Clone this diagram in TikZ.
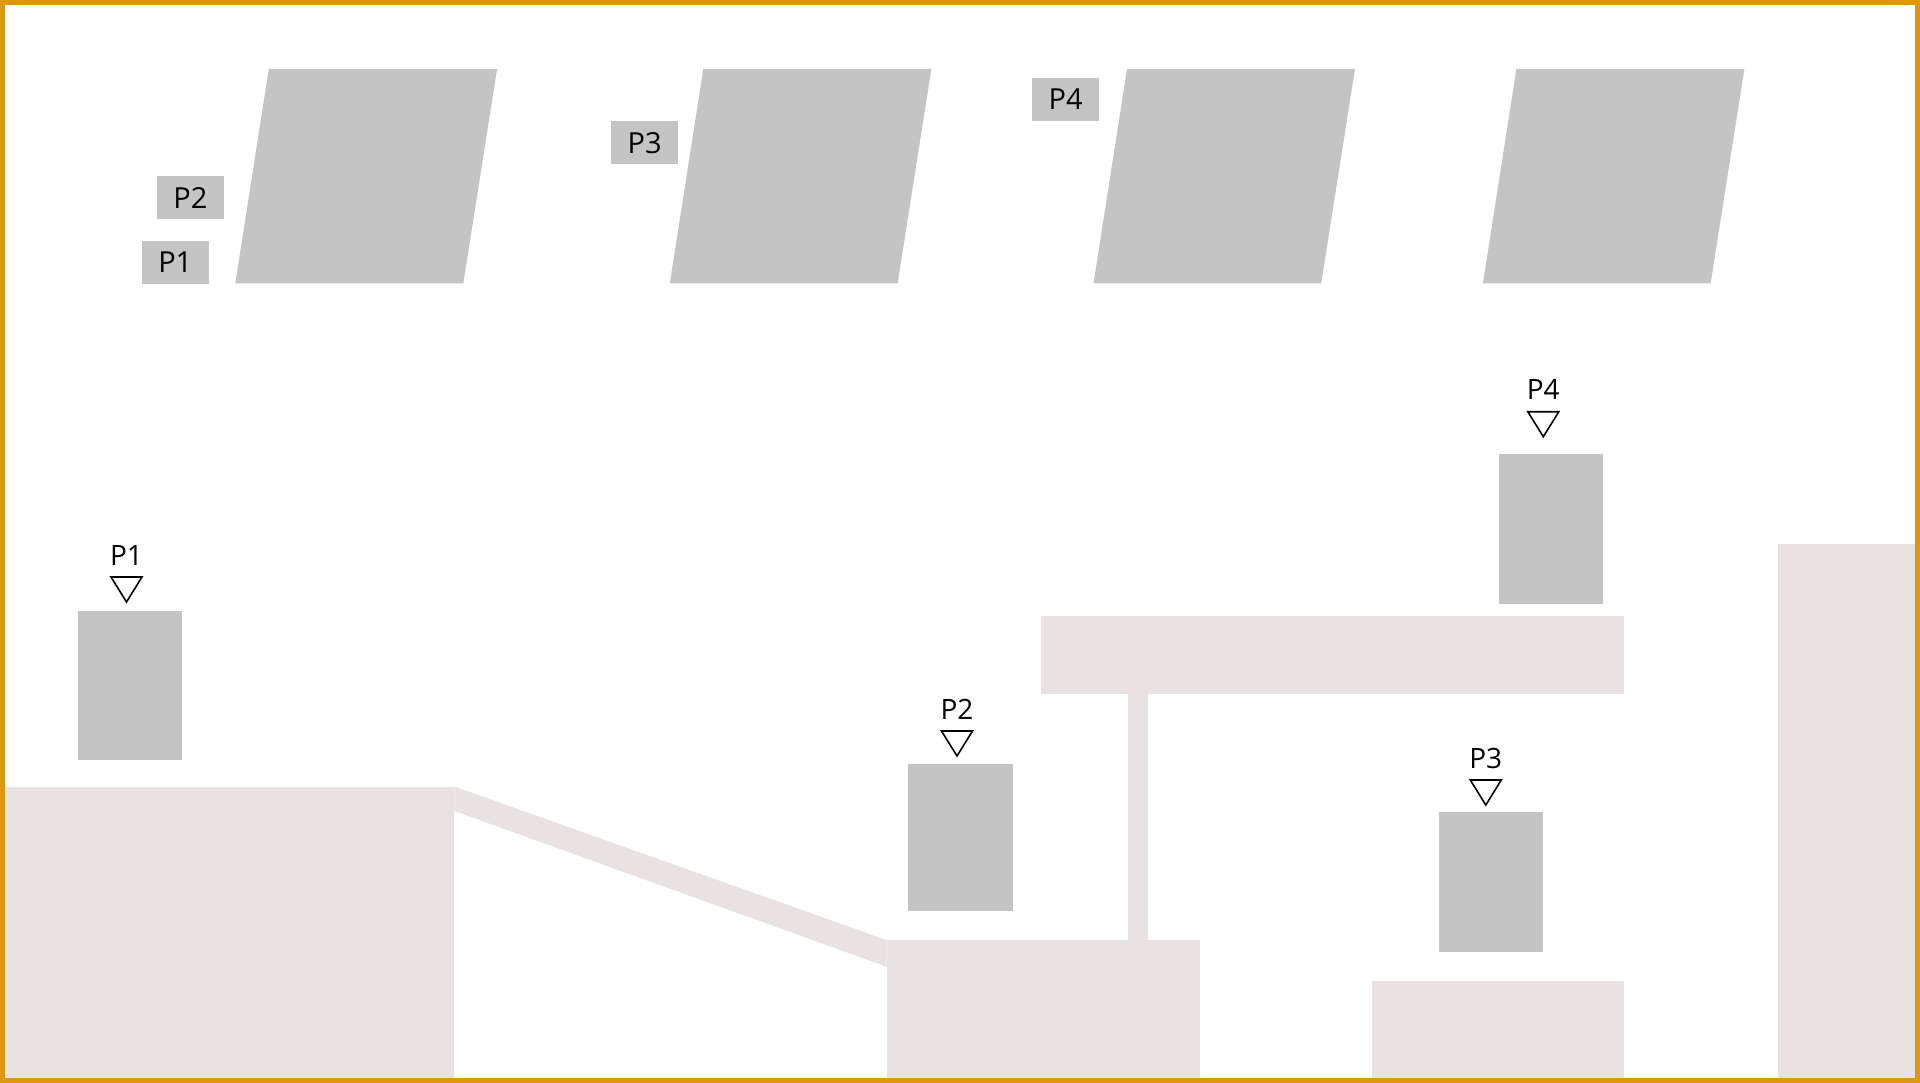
\documentclass[tikz,border=0pt]{standalone}
\usepackage{fontspec}
\setmainfont{Open Sans}
\usetikzlibrary{positioning}
\definecolor{framebd}{HTML}{E0970F}
\definecolor{blockgray}{HTML}{C4C4C4}
\definecolor{floorgray}{HTML}{E8E2E2}

\begin{document}
\begin{tikzpicture}[x=1pt, y=-1pt,
  blk/.style={fill=blockgray},
  flr/.style={fill=floorgray},
  tag/.style={fill=blockgray, minimum width=67.5pt, minimum height=43pt,
              inner sep=0pt, font=\fontsize{29}{34}\selectfont},
  mlbl/.style={anchor=base, inner sep=0pt, font=\fontsize{28}{34}\selectfont},
]

\useasboundingbox (0,0) rectangle (1920,1083);

%% floor pieces
\fill[flr] (5,786.5) rectangle (454.3,1080);
\fill[flr] (454.3,786.5) -- (886.5,940) -- (886.5,966.7) -- (454.3,811) -- cycle;
\fill[flr] (886.5,940) rectangle (1199.7,1080);
\fill[flr] (1127.5,693.5) rectangle (1147.5,940);
\fill[flr] (1041,616) rectangle (1623.7,693.5);
\fill[flr] (1372,981) rectangle (1623.7,1080);
\fill[flr] (1778.3,544) rectangle (1916,1080);

%% slanted panels at the top
\foreach \xa/\xb in {235.3/463.3, 669.8/897.6, 1093.5/1321.2, 1482.9/1710.6} {
  \fill[blk] (\xa,283.5) -- (\xa+33.5,68.8) -- (\xb+33.8,68.8) -- (\xb,283.5) -- cycle;
}

%% tags
\node[tag] (tagP2) at (190.5,198) {P2};
\node[tag] (tagP1) at (175.3,262.2) {P1};
\node[tag] (tagP3) at (644.7,142.7) {P3};
\node[tag] (tagP4) at (1065.7,99.5) {P4};

%% boxes
\fill[blk] (78.4,611) rectangle (182.4,760.4);
\fill[blk] (908.3,764) rectangle (1012.7,911);
\fill[blk] (1498.8,454.3) rectangle (1602.8,603.5);
\fill[blk] (1438.7,812) rectangle (1543,952);

%% markers
\foreach \n/\x/\y in {1/126.5/577, 2/957/731, 3/1485.8/780, 4/1543.3/411.7} {
  \node[mlbl] (mP\n) at (\x,\y-12) {P\n};
  \draw[line width=1.6pt, line join=miter] (\x-15.5,\y) -- (\x+15.5,\y) -- (\x,\y+25) -- cycle;
}

%% frame
\draw[framebd, line width=4.5pt] (2.3,2.3) rectangle (1917.7,1080.7);

\end{tikzpicture}
\end{document}
